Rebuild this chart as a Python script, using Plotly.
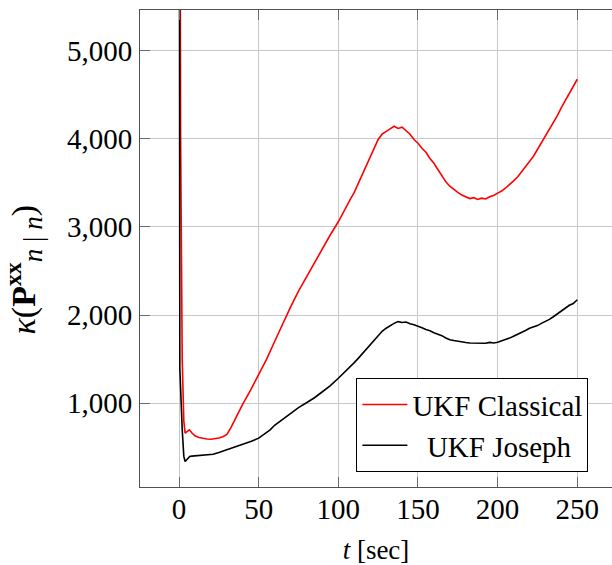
import plotly.graph_objects as go

# ---- data ----
t_classical = [0, 1, 2, 3, 3.8, 5, 6.5, 8, 10, 12.5, 15, 17.5, 20, 22.5, 25, 27.5, 30,
               32.5, 35, 37.5, 40, 45, 50, 55, 60, 65, 70, 75, 80, 85, 90, 95,
               100, 102.5, 105, 107.5, 110, 112.5, 115, 117.5, 120, 122.5, 125, 127.5,
               130, 132.5, 135, 137.5, 140, 142.5, 145, 147.5, 150, 152.5, 155, 157.5,
               160, 162.5, 165, 167.5, 170, 172.5, 175, 177.5, 180, 182.5, 185, 187.5,
               190, 192.5, 195, 197.5, 200, 202.5, 205, 207.5, 210, 212.5, 215, 217.5,
               220, 222.5, 225, 227.5, 230, 232.5, 235, 237.5, 240, 242.5, 245, 247.5, 250]
kappa_classical = [12000, 4000, 1500, 800, 660, 680, 698, 665, 630, 612, 600, 595, 592,
                   595, 605, 620, 645, 720, 810, 900, 990, 1150, 1320, 1500, 1700, 1900,
                   2090, 2270, 2430, 2600, 2760, 2910,
                   3057, 3145, 3220, 3310, 3390, 3490, 3580, 3690, 3790, 3900, 3990, 4050,
                   4085, 4110, 4140, 4115, 4130, 4090, 4050, 3990, 3948, 3890, 3845, 3775,
                   3720, 3650, 3575, 3510, 3460, 3420, 3390, 3360, 3340, 3320, 3330, 3310,
                   3325, 3315, 3340, 3355, 3382, 3405, 3440, 3475, 3520, 3565, 3620, 3675,
                   3740, 3800, 3875, 3950, 4030, 4100, 4180, 4260, 4350, 4430, 4520, 4590,
                   4673]

t_joseph = [0, 0.5, 2, 3, 3.8, 5, 6.7, 8, 10.9, 15, 21.4, 25, 30, 36.3, 40, 45, 50, 55,
            57.2, 60, 65, 70, 75, 80, 85, 90, 95,
            100, 102.5, 105, 107.5, 110, 112.5, 115, 117.5, 120, 122.5, 125, 127.5,
            130, 132.5, 135, 137.5, 140, 142.5, 145, 147.5, 150, 152.5, 155, 157.5,
            160, 162.5, 165, 167.5, 170, 172.5, 175, 177.5, 180, 182.5, 185, 187.5,
            190, 192.5, 195, 197.5, 200, 202.5, 205, 207.5, 210, 212.5, 215, 217.5,
            220, 222.5, 225, 227.5, 230, 232.5, 235, 237.5, 240, 242.5, 245, 247.5, 250]
kappa_joseph = [12000, 1400, 700, 400, 339, 360, 396, 400, 403, 408, 422, 440, 470, 508,
                535, 565, 604, 665, 698, 750, 815, 890, 950, 1005, 1062, 1130, 1200,
                1283, 1325, 1370, 1412, 1460, 1508, 1560, 1615, 1670, 1722, 1770, 1815,
                1850, 1880, 1905, 1925, 1915, 1920, 1900, 1890, 1868, 1855, 1835, 1822,
                1800, 1785, 1766, 1740, 1720, 1710, 1700, 1695, 1688, 1682, 1683, 1678,
                1685, 1680, 1690, 1683, 1692, 1705, 1720, 1738, 1760, 1780, 1805, 1825,
                1850, 1862, 1880, 1905, 1925, 1950, 1980, 2015, 2050, 2075, 2110, 2130,
                2173]

x_ticks = [0, 50, 100, 150, 200, 250]
y_ticks = [1000, 2000, 3000, 4000, 5000]

FONT = "Liberation Serif"

fig = go.Figure()
fig.add_trace(go.Scatter(x=t_classical, y=kappa_classical, mode="lines",
                         name="UKF Classical", line=dict(color="#ff0000", width=1.6)))
fig.add_trace(go.Scatter(x=t_joseph, y=kappa_joseph, mode="lines",
                         name="&nbsp;&nbsp;UKF Joseph", line=dict(color="#000000", width=1.6)))

axis_common = dict(showgrid=True, gridcolor="#c8c8c8", gridwidth=1,
                   showline=True, linecolor="#505050", linewidth=1,
                   ticks="inside", ticklen=10, tickcolor="#6a6a6a", tickwidth=1,
                   zeroline=False, automargin=False,
                   tickfont=dict(family=FONT, size=29, color="black"))

y_title = ("<i>κ</i>(<b>P</b><sup><b>xx</b></sup>"
           "<sub><span style='font-size:27px'><i>n</i> | <i>n</i></span></sub>)"
           "&nbsp;&nbsp;&nbsp;&nbsp;&nbsp;")

fig.update_layout(
    width=612, height=565,
    margin=dict(l=140, r=0, t=10, b=78),
    paper_bgcolor="white", plot_bgcolor="white",
    font=dict(family=FONT, color="black"),
    showlegend=True,
    legend=dict(x=0.95, y=0.031, xanchor="right", yanchor="bottom",
                bgcolor="white", bordercolor="black", borderwidth=1,
                font=dict(family=FONT, size=29, color="black"),
                itemwidth=45, tracegroupgap=0),
    xaxis=dict(range=[-24.5, 271.8], tickvals=x_ticks, mirror="ticks",
               ticklabelstandoff=-4,
               title=dict(text="<i>t</i> [sec]", font=dict(family=FONT, size=27),
                          standoff=17),
               **axis_common),
    yaxis=dict(range=[50, 5458], tickvals=y_ticks, tickformat=",d", mirror=False,
               ticklabelstandoff=1,
               title=dict(text=y_title, font=dict(family=FONT, size=34), standoff=26),
               **axis_common),
)

fig.write_html("out.html",
               config={"displayModeBar": False},
               post_script="document.body.style.margin='0';"
                           "document.body.style.overflow='hidden';")
